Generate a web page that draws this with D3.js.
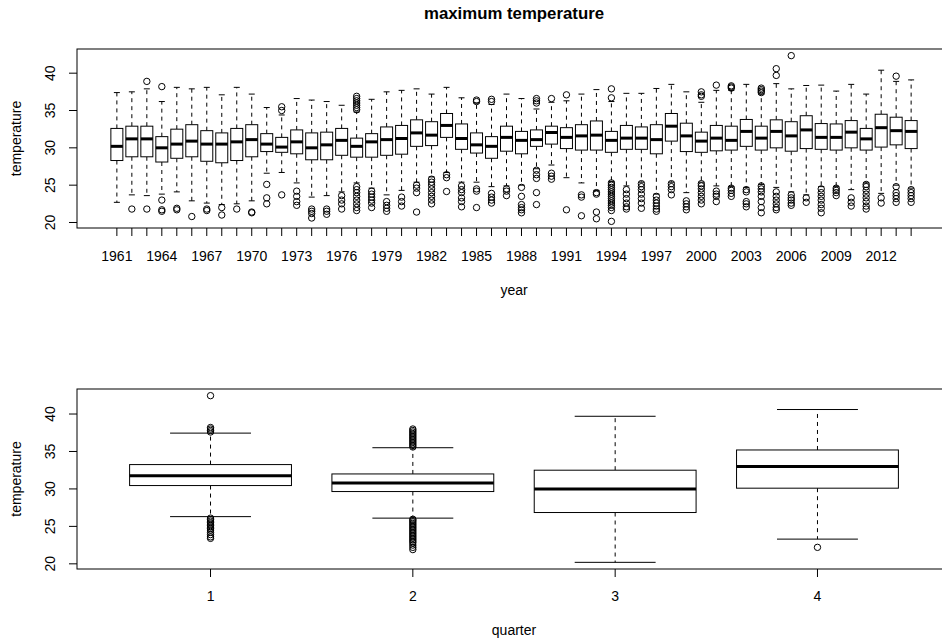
<!DOCTYPE html>
<html>
<head>
<meta charset="utf-8">
<script src="https://cdn.jsdelivr.net/npm/d3@7"></script>
<style>
  html, body { margin: 0; padding: 0; background: #fff; }
  svg { display: block; font-family: "Liberation Sans", Arial, Helvetica, sans-serif; }
</style>
</head>
<body>
<svg id="chart" width="942" height="643"></svg>
<script>
// ---- yearly maximum temperature summaries ----
const years = [1961,1962,1963,1964,1965,1966,1967,1968,1969,1970,1971,1972,1973,1974,1975,1976,1977,1978,
  1979,1980,1981,1982,1983,1984,1985,1986,1987,1988,1989,1990,1991,1992,1993,1994,1995,1996,1997,1998,
  1999,2000,2001,2002,2003,2004,2005,2006,2007,2008,2009,2010,2011,2012,2013,2014];
const yearTickLabels = [1961,1964,1967,1970,1973,1976,1979,1982,1985,1988,1991,1994,1997,2000,2003,2006,2009,2012];

const yearLowWhisker = [22.7,23.7,23.6,23.8,24.1,22.9,22.6,22.4,22.5,22.9,26.6,26.7,25.3,23.4,23.6,24.1,25.3,24.6,
  23.7,24.3,25.4,26.1,26.7,25.4,25.4,24.8,24.9,25.0,27.2,27.7,26.0,25.3,24.3,25.5,24.9,25.4,23.8,25.4,
  24.0,25.4,24.9,24.8,24.7,25.1,24.7,24.1,23.7,24.8,24.8,24.4,25.3,23.9,25.0,24.6];
const yearQ1 = [28.3,28.8,28.8,28.1,28.6,28.8,28.2,28.0,28.3,28.8,29.5,29.4,29.2,28.4,28.4,29.0,28.75,28.75,
  29.0,29.15,30.2,30.3,31.4,29.8,29.3,28.6,29.55,29.2,30.2,30.5,29.9,29.7,29.7,29.4,29.8,29.8,29.2,30.9,
  29.5,29.4,29.6,29.7,30.2,29.7,30.0,29.55,29.9,29.8,29.7,30.0,29.7,30.1,30.4,29.9];
const yearMedian = [30.2,31.2,31.2,30.0,30.5,30.9,30.5,30.5,30.8,31.1,30.5,30.1,30.8,30.0,30.4,31.0,30.2,30.8,
  31.1,31.25,32.0,31.7,33.0,31.25,30.4,30.2,31.4,31.0,31.1,32.05,31.4,31.6,31.7,31.0,31.3,31.3,31.1,32.9,
  31.6,30.9,31.3,31.0,32.2,31.3,32.2,31.6,32.4,31.4,31.4,32.1,31.2,32.7,32.3,32.2];
const yearQ3 = [32.6,32.9,32.9,31.5,32.5,33.1,32.3,32.0,32.6,33.1,31.9,31.4,32.4,32.0,32.1,32.6,31.3,31.9,
  32.8,33.0,33.75,33.5,34.6,33.2,32.0,31.5,32.9,32.2,32.4,32.9,32.7,33.1,33.6,32.2,33.0,32.8,33.1,34.6,
  33.3,32.1,33.0,32.9,33.8,32.9,33.75,33.5,34.3,33.25,33.2,33.65,32.6,34.5,34.1,33.65];
const yearHighWhisker = [37.4,37.5,37.9,36.2,38.1,37.9,38.1,37.1,38.1,37.2,35.4,34.4,36.6,36.4,36.2,35.7,34.8,36.5,
  37.5,37.7,37.9,37.2,38.1,36.7,36.0,35.8,37.2,36.6,35.2,36.1,36.3,37.2,37.8,36.2,37.3,37.3,37.95,38.5,
  37.5,36.1,37.7,37.7,38.5,37.2,38.6,37.9,38.35,38.4,37.6,38.5,37.2,40.4,38.9,39.1];
const yearOutliers = [
  [], [21.8], [38.9,21.8], [38.2,23.0,21.7,21.5], [21.9,21.7], [20.8], [21.8,21.6], [22.0,21.0], [21.8], [21.4,21.3],
  [25.1,23.3,22.5], [35.0,35.5,23.7], [24.2,23.5,22.8,22.3], [21.8,21.5,21.2,20.6], [21.8,21.5,21.1],
  [23.6,23.0,22.5,21.8],
  [35.1,35.4,35.7,36.0,36.3,36.6,36.9,24.8,24.4,24.0,23.5,23.0,22.5,22.0,21.6],
  [24.2,23.8,23.4,23.0,22.6,22.0], [22.8,22.3,21.9,21.5], [23.4,22.8,22.2], [25.0,24.6,24.0,21.4],
  [25.8,25.4,25.0,24.5,24.0,23.5,23.0,22.5], [26.4,26.0,24.15], [24.9,24.4,24.0,23.3,22.8,22.1],
  [36.2,36.4,24.5,24.2,22.0], [36.2,36.5,23.9,23.4,23.0,22.6], [24.5,24.2,23.6], [24.7,23.5,22.4,22.0,21.7,21.3],
  [36.0,36.3,36.6,27.0,26.4,25.9,24.0,22.4], [36.6,26.6,26.2,25.8], [37.1,21.7], [23.7,23.4,20.9],
  [24.0,23.8,21.4,20.5],
  [36.7,37.9,25.3,25.0,24.7,24.4,24.1,23.8,23.5,23.2,22.9,22.6,22.3,22.0,21.6,20.15],
  [24.4,23.8,23.2,22.6,22.1,21.8], [25.2,24.8,24.4,23.8,23.2,22.6,21.9], [23.5,23.0,22.6,22.2,21.8,21.5],
  [25.2,24.8,24.4,23.7], [22.9,22.5,22.1,21.7], [36.9,37.1,37.5,25.2,24.9,24.5,24.0,23.5,23.0,22.5],
  [38.4,24.2,23.8,23.5,22.8], [38.0,38.15,38.3,24.6,24.3,23.9,23.5], [24.4,24.1,22.8,22.5,22.1],
  [37.4,37.6,37.8,38.0,24.9,24.5,24.1,23.5,22.8,22.0,21.3], [39.7,40.6,24.1,23.5,23.0,22.5,22.0,21.7],
  [42.35,23.7,23.3,23.0,22.6,22.3], [23.3,22.7], [24.5,24.0,23.5,23.0,22.4,21.9,21.3], [24.6,24.3,24.0,23.6],
  [23.3,22.7,22.2], [25.1,24.8,24.3,23.8,23.3,22.8,22.2,21.8], [23.3,22.6], [39.6,24.8,24.0,23.6,23.2,22.7],
  [24.4,24.0,23.6,23.2,22.7]
];

// ---- quarterly summaries ----
const quarters = [1, 2, 3, 4];
const quarterLowWhisker = [26.3, 26.1, 20.2, 23.3];
const quarterQ1 = [30.45, 29.65, 26.85, 30.1];
const quarterMedian = [31.75, 30.8, 30.0, 33.0];
const quarterQ3 = [33.25, 32.0, 32.5, 35.2];
const quarterHighWhisker = [37.45, 35.5, 39.7, 40.6];
const quarterOutliers = [
  [37.6,37.8,38.0,38.2,42.45,26.1,25.9,25.7,25.5,25.3,25.1,24.9,24.7,24.5,24.2,23.9,23.6,23.4],
  [35.6,35.8,36.0,36.2,36.4,36.6,36.8,37.0,37.2,37.4,37.6,37.8,38.0,
   25.95,25.8,25.6,25.4,25.2,25.0,24.8,24.6,24.4,24.2,24.0,23.8,23.6,23.4,23.2,23.0,22.8,22.5,22.2,21.9],
  [],
  [22.2]
];

const yTicks = [20, 25, 30, 35, 40];

const svg = d3.select("#chart");
const FONT = 14;

function makeStats(cats, lo, q1, med, q3, hi, out) {
  return cats.map((c, i) => ({ cat: c, lo: lo[i], q1: q1[i], med: med[i], q3: q3[i], hi: hi[i], out: out[i] }));
}

function drawPanel(opts) {
  const { stats, top, bottom, left, right, xLabel, yLabel, tickLabels, tickLen, labelGap } = opts;
  const n = stats.length;
  const g = svg.append("g");

  // R-style limits: 0.5..n+0.5 widened by 4%
  const x = d3.scaleLinear().domain([0.5 - 0.04 * n, n + 0.5 + 0.04 * n]).range([left, right]);
  const allVals = stats.flatMap(s => [s.lo, s.hi, ...s.out]);
  const vmin = d3.min(allVals), vmax = d3.max(allVals);
  const pad = (vmax - vmin) * 0.04;
  const y = d3.scaleLinear().domain([vmin - pad, vmax + pad]).range([bottom, top]);

  const boxW = x(1.4) - x(0.6);
  const stapleW = boxW / 2;

  const items = g.selectAll("g.box").data(stats).enter().append("g").attr("class", "box")
    .attr("transform", (d, i) => `translate(${x(i + 1)},0)`);

  // whiskers (dashed)
  items.append("line").attr("x1", 0).attr("x2", 0)
    .attr("y1", d => y(d.q3)).attr("y2", d => y(d.hi))
    .attr("stroke", "#000").attr("stroke-width", 1).attr("stroke-dasharray", "4,4");
  items.append("line").attr("x1", 0).attr("x2", 0)
    .attr("y1", d => y(d.q1)).attr("y2", d => y(d.lo))
    .attr("stroke", "#000").attr("stroke-width", 1).attr("stroke-dasharray", "4,4");
  // staples
  items.append("line").attr("x1", -stapleW / 2).attr("x2", stapleW / 2)
    .attr("y1", d => y(d.hi)).attr("y2", d => y(d.hi)).attr("stroke", "#000").attr("stroke-width", 1);
  items.append("line").attr("x1", -stapleW / 2).attr("x2", stapleW / 2)
    .attr("y1", d => y(d.lo)).attr("y2", d => y(d.lo)).attr("stroke", "#000").attr("stroke-width", 1);
  // boxes
  items.append("rect").attr("x", -boxW / 2).attr("width", boxW)
    .attr("y", d => y(d.q3)).attr("height", d => y(d.q1) - y(d.q3))
    .attr("fill", "#fff").attr("stroke", "#000").attr("stroke-width", 1);
  // medians
  items.append("line").attr("x1", -boxW / 2).attr("x2", boxW / 2)
    .attr("y1", d => y(d.med)).attr("y2", d => y(d.med))
    .attr("stroke", "#000").attr("stroke-width", 3);
  // outliers
  items.selectAll("circle").data(d => d.out).enter().append("circle")
    .attr("cx", 0).attr("cy", v => y(v)).attr("r", 3.2)
    .attr("fill", "none").attr("stroke", "#000").attr("stroke-width", 1);

  // frame
  g.append("rect").attr("x", left).attr("y", top).attr("width", right - left).attr("height", bottom - top)
    .attr("fill", "none").attr("stroke", "#000").attr("stroke-width", 1);

  // y axis
  yTicks.forEach(t => {
    g.append("line").attr("x1", left - tickLen).attr("x2", left).attr("y1", y(t)).attr("y2", y(t))
      .attr("stroke", "#000").attr("stroke-width", 1);
    g.append("text").attr("transform", `translate(${left - 22},${y(t)}) rotate(-90)`)
      .attr("text-anchor", "middle").attr("font-size", FONT).attr("fill", "#000").text(t);
  });

  // x axis ticks
  stats.forEach((s, i) => {
    g.append("line").attr("x1", x(i + 1)).attr("x2", x(i + 1)).attr("y1", bottom).attr("y2", bottom + tickLen)
      .attr("stroke", "#000").attr("stroke-width", 1);
  });
  stats.forEach((s, i) => {
    if (tickLabels.includes(s.cat)) {
      g.append("text").attr("x", x(i + 1)).attr("y", bottom + labelGap)
        .attr("text-anchor", "middle").attr("font-size", FONT).attr("fill", "#000").text(s.cat);
    }
  });

  // axis titles
  g.append("text").attr("x", (left + right) / 2).attr("y", bottom + labelGap + 34)
    .attr("text-anchor", "middle").attr("font-size", FONT).attr("fill", "#000").text(xLabel);
  g.append("text").attr("transform", `translate(21,${(top + bottom) / 2}) rotate(-90)`)
    .attr("text-anchor", "middle").attr("font-size", FONT).attr("fill", "#000").text(yLabel);
}

svg.append("text").attr("x", 514).attr("y", 19).attr("text-anchor", "middle")
  .attr("font-size", 16.8).attr("font-weight", "bold").attr("fill", "#000").text("maximum temperature");

drawPanel({
  stats: makeStats(years, yearLowWhisker, yearQ1, yearMedian, yearQ3, yearHighWhisker, yearOutliers),
  top: 49, bottom: 228, left: 77, right: 951,
  xLabel: "year", yLabel: "temperature", tickLabels: yearTickLabels, tickLen: 8, labelGap: 33
});

drawPanel({
  stats: makeStats(quarters, quarterLowWhisker, quarterQ1, quarterMedian, quarterQ3, quarterHighWhisker, quarterOutliers),
  top: 389, bottom: 569, left: 77, right: 951,
  xLabel: "quarter", yLabel: "temperature", tickLabels: quarters, tickLen: 8, labelGap: 32
});
</script>
</body>
</html>
